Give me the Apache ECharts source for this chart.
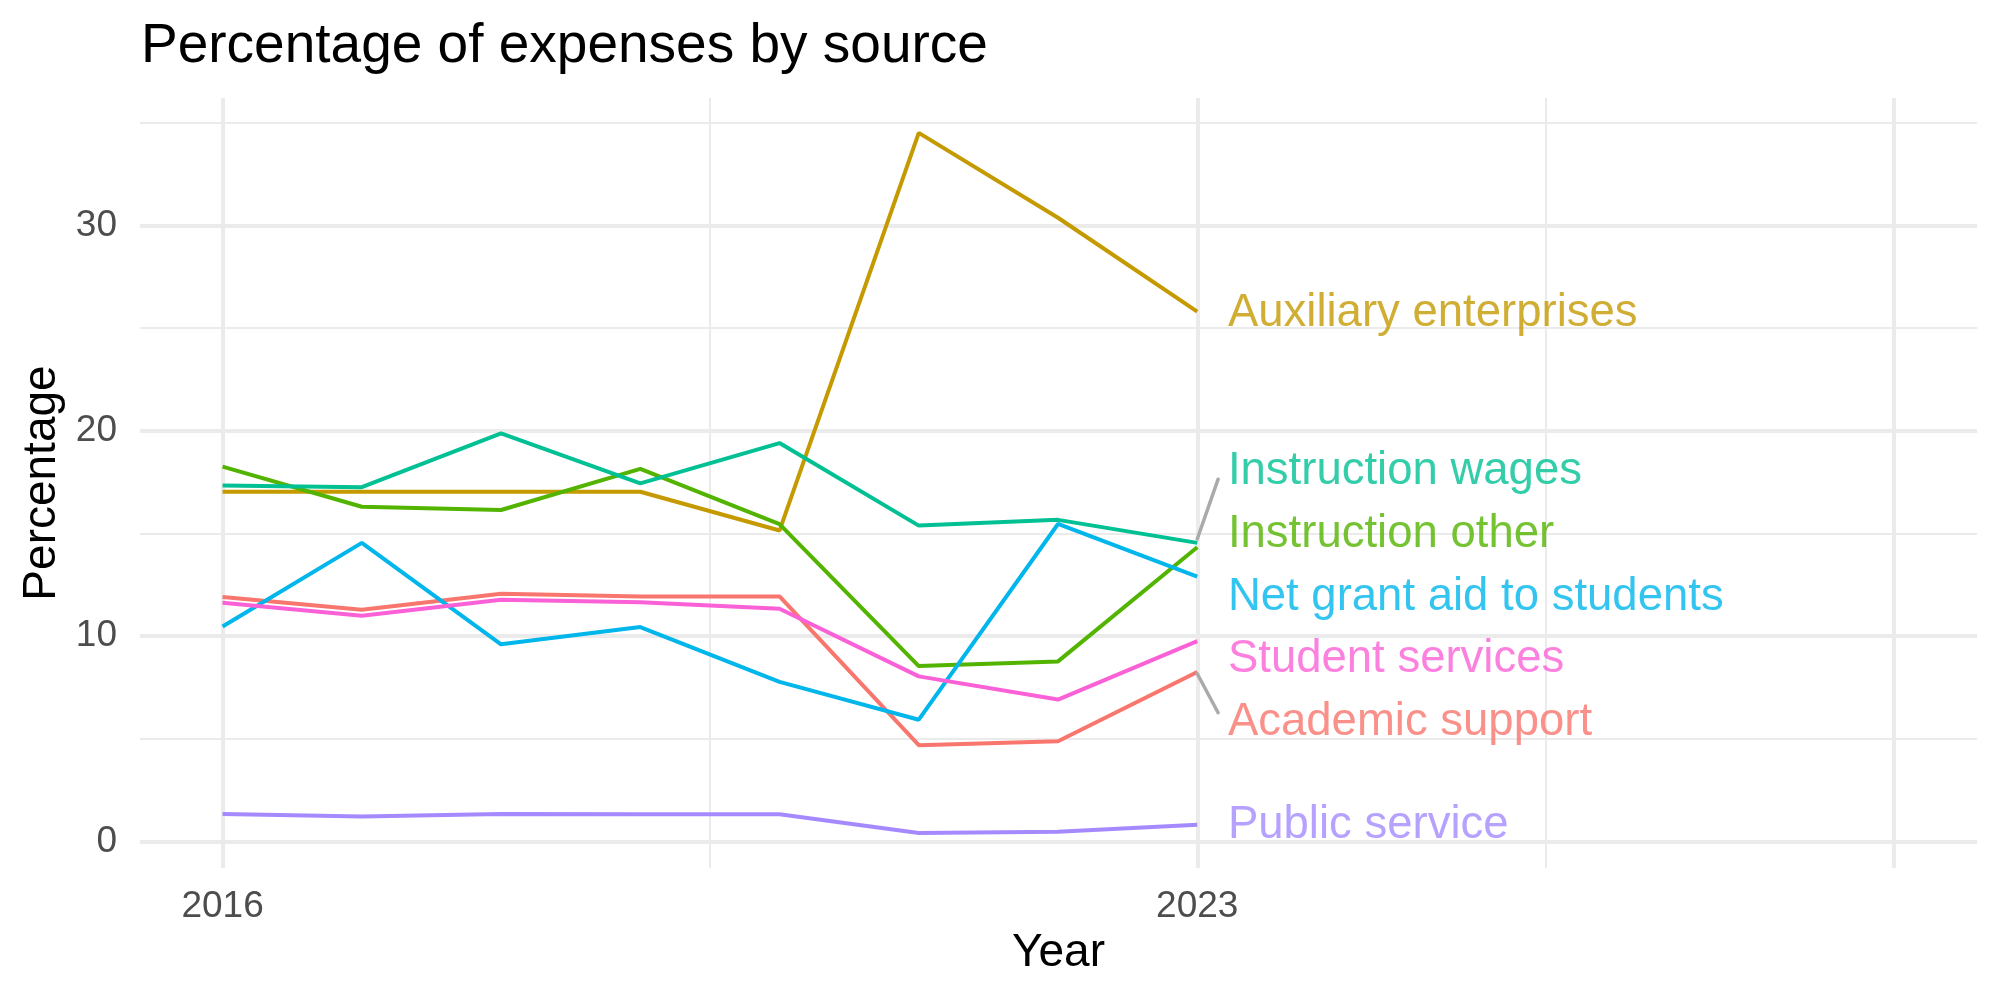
<!DOCTYPE html>
<html>
<head>
<meta charset="utf-8">
<title>Percentage of expenses by source</title>
<script src="https://cdn.jsdelivr.net/npm/echarts@6/dist/echarts.min.js"></script>
<style>
  html, body { margin: 0; padding: 0; background: #ffffff; }
  #chart { width: 2000px; height: 1000px; }
</style>
</head>
<body>
<div id="chart"></div>
<script>
// years on the x axis
var years = [2016, 2017, 2018, 2019, 2020, 2021, 2022, 2023];

// percentage of expenses by source
var academicSupport   = [11.90, 11.28, 12.06, 11.93, 11.93, 4.69, 4.88, 8.25];
var auxiliary         = [17.03, 17.03, 17.03, 17.03, 15.14, 34.50, 30.37, 25.80];
var instructionOther  = [18.25, 16.30, 16.14, 18.14, 15.45, 8.54, 8.77, 14.33];
var instructionWages  = [17.33, 17.25, 19.87, 17.44, 19.40, 15.38, 15.66, 14.54];
var netGrantAid       = [10.47, 14.54, 9.60, 10.44, 7.77, 5.93, 15.46, 12.90];
var publicService     = [1.34, 1.22, 1.34, 1.33, 1.33, 0.41, 0.48, 0.82];
var studentServices   = [11.62, 10.99, 11.77, 11.65, 11.33, 8.04, 6.91, 9.76];

var sourceNames = ['Academic support', 'Auxiliary enterprises', 'Instruction other',
  'Instruction wages', 'Net grant aid to students', 'Public service', 'Student services'];
var sourceValues = [academicSupport, auxiliary, instructionOther, instructionWages,
  netGrantAid, publicService, studentServices];
var sourceColors = ['#F8766D', '#C49A00', '#53B400', '#00C094', '#00B6EB', '#A58AFF', '#FB61D7'];

// tick labels and grid lines
var xTickLabels = [2016, 2023];
var yTickLabels = [0, 10, 20, 30];
var xMajorGrid = [2016, 2023, 2028];
var xMinorGrid = [2019.5, 2025.5];
var yMajorGrid = [0, 10, 20, 30];
var yMinorGrid = [5, 15, 25, 35];

// where the repelled end labels sit (same order as sourceNames)
var labelX = 2023.22;
var labelY = [5.78, 25.69, 14.95, 18.0, 11.88, 0.77, 8.84];
// the two grey leader segments
var leaderWages = [[2023.0, 14.73], [2023.15, 17.64]];
var leaderAcademic = [[2023.0, 8.17], [2023.15, 6.27]];

var FONT = 'Liberation Sans';

function gridLines(vals, axis, width) {
  return vals.map(function (v) {
    var d = { lineStyle: { width: width } };
    d[axis] = v;
    return d;
  });
}

var series = [];

// background grid drawn through the axes' own scales
series.push({
  type: 'line',
  data: [],
  silent: true,
  z: 0,
  markLine: {
    z: 0,
    silent: true,
    symbol: 'none',
    label: { show: false },
    animation: false,
    lineStyle: { color: '#EBEBEB', type: 'solid' },
    data: []
      .concat(gridLines(xMinorGrid, 'xAxis', 2))
      .concat(gridLines(yMinorGrid, 'yAxis', 2))
      .concat(gridLines(xMajorGrid, 'xAxis', 4))
      .concat(gridLines(yMajorGrid, 'yAxis', 4))
  }
});

sourceNames.forEach(function (name, i) {
  series.push({
    name: name,
    type: 'line',
    z: 2,
    showSymbol: false,
    symbol: 'none',
    lineStyle: { color: sourceColors[i], width: 4 },
    itemStyle: { color: sourceColors[i] },
    data: years.map(function (y, k) { return [y, sourceValues[i][k]]; })
  });
});

[leaderWages, leaderAcademic].forEach(function (seg) {
  series.push({
    type: 'line',
    z: 3,
    silent: true,
    symbol: 'none',
    lineStyle: { color: '#AAAAAA', width: 3.5, cap: 'round' },
    data: seg
  });
});

series.push({
  type: 'scatter',
  z: 4,
  silent: true,
  symbolSize: 0,
  data: sourceNames.map(function (name, i) {
    return {
      value: [labelX, labelY[i]],
      name: name,
      label: { color: sourceColors[i] }
    };
  }),
  label: {
    show: true,
    position: [0, 0],
    align: 'left',
    verticalAlign: 'middle',
    fontFamily: FONT,
    fontSize: 45.5,
    formatter: function (p) { return p.name; }
  }
});

var chart = echarts.init(document.getElementById('chart'), null, { renderer: 'canvas' });
chart.setOption({
  animation: false,
  backgroundColor: '#ffffff',
  title: {
    text: 'Percentage of expenses by source',
    left: 136,
    top: 14,
    textStyle: { fontFamily: FONT, fontSize: 55, fontWeight: 'normal', color: '#000000' }
  },
  grid: { left: 140, right: 23, top: 98, bottom: 132 },
  xAxis: {
    type: 'value',
    min: 2015.407,
    max: 2028.6,
    name: 'Year',
    nameLocation: 'middle',
    nameGap: 84,
    nameTextStyle: { fontFamily: FONT, fontSize: 46, color: '#000000', verticalAlign: 'middle' },
    axisLine: { show: false },
    axisTick: { show: false },
    splitLine: { show: false },
    axisLabel: {
      customValues: xTickLabels,
      fontFamily: FONT,
      fontSize: 37,
      color: '#4D4D4D',
      margin: 20,
      formatter: function (v) { return String(v); }
    }
  },
  yAxis: {
    type: 'value',
    min: -1.29,
    max: 36.2,
    name: 'Percentage',
    nameLocation: 'middle',
    nameGap: 98,
    nameRotate: 90,
    nameTextStyle: { fontFamily: FONT, fontSize: 46, color: '#000000', verticalAlign: 'middle' },
    axisLine: { show: false },
    axisTick: { show: false },
    splitLine: { show: false },
    axisLabel: {
      customValues: yTickLabels,
      fontFamily: FONT,
      fontSize: 37,
      color: '#4D4D4D',
      margin: 23,
      formatter: function (v) { return String(v); }
    }
  },
  series: series
});
</script>
</body>
</html>
